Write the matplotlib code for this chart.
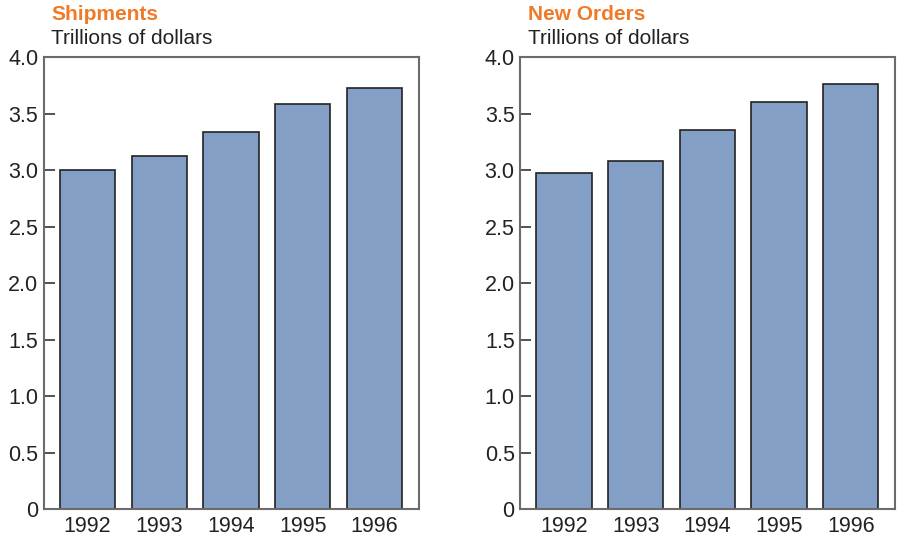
import matplotlib
matplotlib.use("Agg")
import matplotlib.pyplot as plt

plt.rcParams['font.family'] = ['Liberation Sans', 'DejaVu Sans']

years = ['1992', '1993', '1994', '1995', '1996']
shipments = [3.00, 3.12, 3.34, 3.58, 3.73]
new_orders = [2.97, 3.08, 3.35, 3.60, 3.76]
titles = ['Shipments', 'New Orders']
unit_label = 'Trillions of dollars'
yticks = [0, 0.5, 1.0, 1.5, 2.0, 2.5, 3.0, 3.5, 4.0]
ytick_labels = ['0', '0.5', '1.0', '1.5', '2.0', '2.5', '3.0', '3.5', '4.0']

BAR_COLOR = '#849fc6'
ORANGE = '#f07a28'
FRAME = '#6b6b6b'

fig = plt.figure(figsize=(8.97, 5.4), dpi=100)
ax1 = fig.add_axes([0.049, 0.0574, 0.418, 0.837])
ax2 = fig.add_axes([0.580, 0.0574, 0.418, 0.837])

for ax, vals, title in zip([ax1, ax2], [shipments, new_orders], titles):
    x = range(len(years))
    ax.bar(x, vals, width=0.77, color=BAR_COLOR, edgecolor='#222222', linewidth=1.2, zorder=2)
    ax.set_xlim(-0.61, 4.62)
    ax.set_ylim(0, 4.0)
    ax.set_yticks(yticks)
    ax.set_yticklabels(ytick_labels)
    ax.set_xticks(list(x))
    ax.set_xticklabels(years)
    ax.tick_params(axis='y', direction='in', length=8, width=1.2, color='#333333',
                   labelsize=15.5, pad=4, labelcolor='#222222')
    ax.tick_params(axis='x', length=0, labelsize=15.5, pad=5, labelcolor='#222222')
    for s in ax.spines.values():
        s.set_color(FRAME)
        s.set_linewidth(1.5)
    ax.text(0.02, 1.094, title, transform=ax.transAxes, color=ORANGE,
            fontsize=15, fontweight='bold', va='center', ha='left')
    ax.text(0.02, 1.042, unit_label, transform=ax.transAxes, color='#222222',
            fontsize=15, va='center', ha='left')

fig.savefig('out.png', dpi=100)
